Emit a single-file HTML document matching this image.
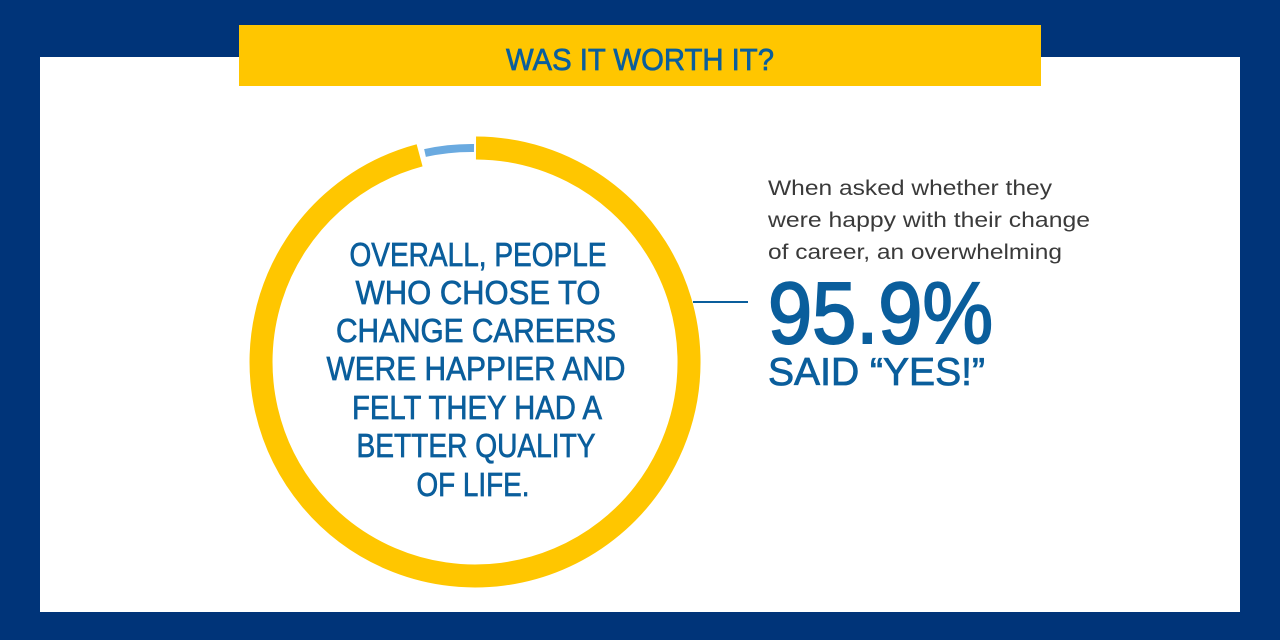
<!DOCTYPE html>
<html><head><meta charset="utf-8"><style>
html,body{margin:0;padding:0;background:#003479;}
svg{display:block}
</style></head><body>
<svg width="1280" height="640" viewBox="0 0 1280 640" xmlns="http://www.w3.org/2000/svg">
<rect x="0" y="0" width="1280" height="640" fill="#003479"/>
<rect x="40" y="57" width="1200" height="555" fill="#ffffff"/>
<rect x="239" y="25" width="802" height="61" fill="#ffc600"/>
<text x="640" y="70" text-anchor="middle" font-family="Liberation Sans, sans-serif" font-size="31" fill="#0a5e9c" stroke="#0a5e9c" stroke-width="0.7" textLength="268" lengthAdjust="spacingAndGlyphs">WAS IT WORTH IT?</text>
<g transform="translate(475,362)">
<path d="M 1 -214 A 214 214 0 1 1 -55.4 -206.7" fill="none" stroke="#ffc600" stroke-width="23"/>
<path d="M -50 -209 A 214 214 0 0 1 -1 -214" fill="none" stroke="#6aaae0" stroke-width="8"/>
</g>
<g font-family="Liberation Sans, sans-serif" font-size="33" fill="#0a5e9c" stroke="#0a5e9c" stroke-width="0.7" text-anchor="middle">
<text x="478" y="266" textLength="257" lengthAdjust="spacingAndGlyphs">OVERALL, PEOPLE</text>
<text x="478" y="304" textLength="245" lengthAdjust="spacingAndGlyphs">WHO CHOSE TO</text>
<text x="476" y="342" textLength="280" lengthAdjust="spacingAndGlyphs">CHANGE CAREERS</text>
<text x="476" y="380" textLength="299" lengthAdjust="spacingAndGlyphs">WERE HAPPIER AND</text>
<text x="477" y="419" textLength="250" lengthAdjust="spacingAndGlyphs">FELT THEY HAD A</text>
<text x="476" y="457" textLength="239" lengthAdjust="spacingAndGlyphs">BETTER QUALITY</text>
<text x="473" y="496" textLength="113" lengthAdjust="spacingAndGlyphs">OF LIFE.</text>
</g>
<line x1="693" y1="302" x2="748" y2="302" stroke="#0a5e9c" stroke-width="2"/>
<g font-family="Liberation Sans, sans-serif" font-size="21" fill="#3a3a3a">
<text x="768" y="195" textLength="284" lengthAdjust="spacingAndGlyphs">When asked whether they</text>
<text x="768" y="227" textLength="322" lengthAdjust="spacingAndGlyphs">were happy with their change</text>
<text x="768" y="259" textLength="294" lengthAdjust="spacingAndGlyphs">of career, an overwhelming</text>
</g>
<text x="768" y="343" font-family="Liberation Sans, sans-serif" font-size="87" fill="#0a5e9c" stroke="#0a5e9c" stroke-width="2" textLength="225" lengthAdjust="spacingAndGlyphs">95.9%</text>
<text x="768" y="385" font-family="Liberation Sans, sans-serif" font-size="39" fill="#0a5e9c" stroke="#0a5e9c" stroke-width="0.8" textLength="217" lengthAdjust="spacingAndGlyphs">SAID “YES!”</text>
</svg>
</body></html>
